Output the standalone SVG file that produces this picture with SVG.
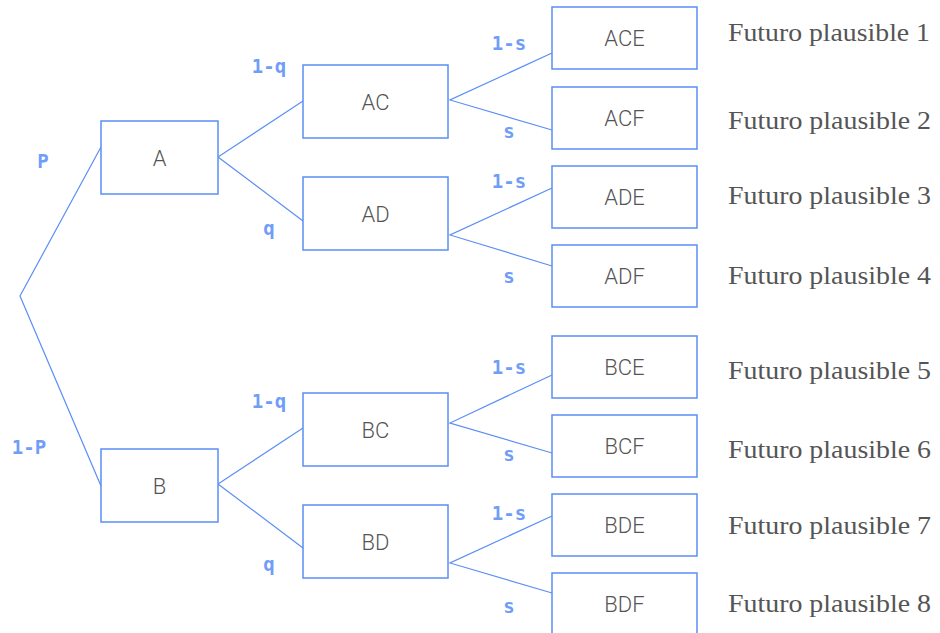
<svg xmlns="http://www.w3.org/2000/svg" width="940" height="633" viewBox="0 0 940 633">
  <style>
    .box { fill: #ffffff; stroke: #5b8ff5; stroke-width: 1.5; }
    .name { font-family: Roboto, "Liberation Sans", sans-serif; font-weight: 300; font-size: 22px; fill: #555555; text-anchor: middle; }
    .edge { fill: none; stroke: #5b8ff5; stroke-width: 1.2; }
    .prob { font-family: "DejaVu Sans Mono", "Liberation Mono", monospace; font-weight: bold; font-size: 19px; fill: #6f9df8; text-anchor: middle; }
    .future { font-family: "Liberation Serif", "DejaVu Serif", serif; font-size: 26px; fill: #555555; }
  </style>

  <!-- branch lines -->
  <g id="connectors">
    <polyline class="edge" points="101,147 20,296 101,486"/>
    <polyline class="edge" points="303,101 218,157 303,221"/>
    <polyline class="edge" points="303,428 218,484 303,548"/>
    <polyline class="edge" points="552,53 450,100 552,130"/>
    <polyline class="edge" points="552,188 450,235 552,266"/>
    <polyline class="edge" points="552,375 450,423 552,453"/>
    <polyline class="edge" points="552,516 450,563 552,593"/>
  </g>

  <!-- branch probabilities -->
  <g id="probabilities">
    <text class="prob" x="43" y="168">P</text>
    <text class="prob" x="29" y="454">1-P</text>
    <text class="prob" x="269" y="73">1-q</text>
    <text class="prob" x="269" y="235">q</text>
    <text class="prob" x="269" y="408">1-q</text>
    <text class="prob" x="269" y="571">q</text>
    <text class="prob" x="509" y="50">1-s</text>
    <text class="prob" x="509" y="138">s</text>
    <text class="prob" x="509" y="188">1-s</text>
    <text class="prob" x="509" y="283">s</text>
    <text class="prob" x="509" y="374">1-s</text>
    <text class="prob" x="509" y="461">s</text>
    <text class="prob" x="509" y="520">1-s</text>
    <text class="prob" x="509" y="613">s</text>
  </g>

  <!-- first level -->
  <g id="node-A"><rect class="box" x="101" y="121" width="117" height="73"/><text class="name" x="159.5" y="165.5">A</text></g>
  <g id="node-B"><rect class="box" x="101" y="449" width="117" height="73"/><text class="name" x="159.5" y="493.5">B</text></g>

  <!-- second level -->
  <g id="node-AC"><rect class="box" x="303" y="65" width="145" height="73"/><text class="name" x="375.5" y="109.5">AC</text></g>
  <g id="node-AD"><rect class="box" x="303" y="177" width="145" height="73"/><text class="name" x="375.5" y="221.5">AD</text></g>
  <g id="node-BC"><rect class="box" x="303" y="393" width="145" height="73"/><text class="name" x="375.5" y="437.5">BC</text></g>
  <g id="node-BD"><rect class="box" x="303" y="505" width="145" height="73"/><text class="name" x="375.5" y="549.5">BD</text></g>

  <!-- outcomes -->
  <g id="node-ACE"><rect class="box" x="552" y="7" width="145" height="62"/><text class="name" x="624.5" y="46">ACE</text></g>
  <g id="node-ACF"><rect class="box" x="552" y="87" width="145" height="62"/><text class="name" x="624.5" y="126">ACF</text></g>
  <g id="node-ADE"><rect class="box" x="552" y="166" width="145" height="62"/><text class="name" x="624.5" y="205">ADE</text></g>
  <g id="node-ADF"><rect class="box" x="552" y="245" width="145" height="62"/><text class="name" x="624.5" y="284">ADF</text></g>
  <g id="node-BCE"><rect class="box" x="552" y="336" width="145" height="62"/><text class="name" x="624.5" y="375">BCE</text></g>
  <g id="node-BCF"><rect class="box" x="552" y="415" width="145" height="62"/><text class="name" x="624.5" y="454">BCF</text></g>
  <g id="node-BDE"><rect class="box" x="552" y="494" width="145" height="62"/><text class="name" x="624.5" y="533">BDE</text></g>
  <g id="node-BDF"><rect class="box" x="552" y="573" width="145" height="62"/><text class="name" x="624.5" y="612">BDF</text></g>

  <!-- scenario captions -->
  <g id="futures">
    <text class="future" x="728" y="41" textLength="202" lengthAdjust="spacingAndGlyphs">Futuro plausible 1</text>
    <text class="future" x="728" y="129" textLength="203" lengthAdjust="spacingAndGlyphs">Futuro plausible 2</text>
    <text class="future" x="728" y="204" textLength="203" lengthAdjust="spacingAndGlyphs">Futuro plausible 3</text>
    <text class="future" x="728" y="284" textLength="203" lengthAdjust="spacingAndGlyphs">Futuro plausible 4</text>
    <text class="future" x="728" y="379" textLength="203" lengthAdjust="spacingAndGlyphs">Futuro plausible 5</text>
    <text class="future" x="728" y="458" textLength="203" lengthAdjust="spacingAndGlyphs">Futuro plausible 6</text>
    <text class="future" x="728" y="534" textLength="203" lengthAdjust="spacingAndGlyphs">Futuro plausible 7</text>
    <text class="future" x="728" y="612" textLength="203" lengthAdjust="spacingAndGlyphs">Futuro plausible 8</text>
  </g>
</svg>
